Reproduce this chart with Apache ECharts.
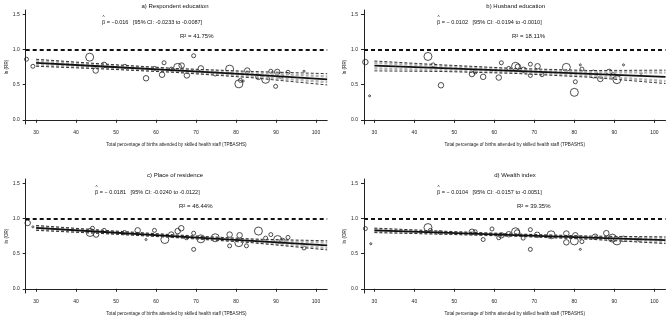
<!DOCTYPE html>
<html>
<head>
<meta charset="utf-8">
<script src="https://cdn.jsdelivr.net/npm/echarts@6/dist/echarts.min.js"></script>
<style>
  html, body { margin: 0; padding: 0; background: #fff; }
  #main { width: 668px; height: 319px; }
</style>
</head>
<body>
<div id="main"></div>
<script>
// tick labels
var xTicks = [30, 40, 50, 60, 70, 80, 90, 100];
var yTicks = [0, 0.5, 1, 1.5];

// x positions where the fitted line and CI bands were read
var fitX = [30, 47, 65, 84, 102.8];

// a) Respondent education
var respX = [27.6, 29.2, 43.4, 44.9, 47.0, 52.2, 57.5, 59.6, 61.5, 62.0, 63.8, 65.4, 66.4, 67.7, 69.4, 71.2, 74.8, 78.4, 80.7, 81.1, 81.8, 82.8, 85.6, 87.4, 88.7, 89.9, 90.3, 91.1, 93.0, 97.0];
var respY = [0.86, 0.76, 0.89, 0.70, 0.78, 0.76, 0.59, 0.73, 0.64, 0.81, 0.72, 0.745, 0.77, 0.63, 0.91, 0.73, 0.65, 0.72, 0.51, 0.56, 0.55, 0.70, 0.61, 0.575, 0.69, 0.475, 0.68, 0.63, 0.675, 0.69];
var respW = [2, 2, 4, 3, 3, 2, 3, 2, 3, 2, 2, 4, 3, 3, 2, 3, 2, 4, 4, 2, 1, 3, 3, 4, 2, 2, 3, 3, 2, 1];
var respFit = [0.81, 0.757, 0.701, 0.642, 0.575];
var respHi = [0.86, 0.792, 0.729, 0.687, 0.655];
var respLo = [0.76, 0.722, 0.673, 0.597, 0.495];
var respGHi = [0.84, 0.778, 0.718, 0.669, 0.615];
var respGLo = [0.78, 0.736, 0.684, 0.615, 0.535];

// b) Husband education
var husbX = [27.75, 28.8, 43.4, 44.7, 46.65, 54.4, 55.2, 57.2, 59.2, 61.1, 61.75, 63.6, 65.3, 65.9, 67.3, 69.0, 69.0, 70.8, 71.9, 78.0, 80.25, 80.0, 81.5, 81.9, 84.8, 86.5, 88.7, 89.7, 90.65, 92.3, 96.7];
var husbY = [0.82, 0.34, 0.90, 0.78, 0.49, 0.65, 0.68, 0.61, 0.69, 0.60, 0.81, 0.73, 0.76, 0.755, 0.71, 0.79, 0.63, 0.76, 0.64, 0.745, 0.54, 0.39, 0.78, 0.72, 0.65, 0.58, 0.68, 0.63, 0.57, 0.78, 0.66];
var husbW = [3, 1, 4, 2, 3, 3, 2, 3, 1, 3, 2, 2, 4, 3, 3, 2, 2, 3, 2, 4, 2, 4, 1, 2, 4, 3, 3, 3, 4, 1, 1];
var husbFit = [0.77, 0.733, 0.694, 0.652, 0.61];
var husbHi = [0.835, 0.78, 0.73, 0.70, 0.705];
var husbLo = [0.695, 0.686, 0.659, 0.604, 0.515];
var husbGHi = [0.81, 0.762, 0.714, 0.68, 0.67];
var husbGLo = [0.73, 0.704, 0.674, 0.624, 0.55];

// c) Place of residence
var placeX = [27.9, 29.2, 43.5, 44.1, 45.0, 47.0, 52.1, 55.4, 57.5, 59.6, 62.2, 63.8, 65.4, 66.3, 67.6, 69.4, 69.4, 71.2, 74.8, 78.4, 78.4, 80.7, 80.9, 82.6, 85.6, 87.4, 88.7, 90.4, 91.6, 93.0, 97.0];
var placeY = [0.935, 0.88, 0.80, 0.86, 0.77, 0.83, 0.80, 0.83, 0.70, 0.83, 0.70, 0.77, 0.82, 0.86, 0.725, 0.79, 0.56, 0.71, 0.725, 0.77, 0.61, 0.655, 0.76, 0.61, 0.82, 0.72, 0.77, 0.70, 0.68, 0.73, 0.58];
var placeW = [3, 1, 4, 2, 3, 2, 2, 3, 1, 2, 4, 3, 3, 3, 2, 2, 2, 4, 4, 3, 2, 4, 3, 2, 4, 2, 2, 4, 3, 2, 2];
var placeFit = [0.865, 0.807, 0.746, 0.681, 0.617];
var placeHi = [0.90, 0.83, 0.764, 0.707, 0.682];
var placeLo = [0.83, 0.784, 0.728, 0.655, 0.552];
var placeGHi = [0.886, 0.821, 0.757, 0.697, 0.656];
var placeGLo = [0.844, 0.793, 0.735, 0.665, 0.578];

// d) Wealth index
var wealthX = [27.75, 29.1, 43.4, 44.0, 46.5, 54.4, 55.2, 57.2, 59.4, 61.1, 61.75, 63.6, 65.3, 65.7, 67.2, 69.0, 69.0, 70.7, 74.2, 78.0, 78.0, 80.0, 80.25, 81.5, 81.9, 85.2, 88.0, 89.5, 90.65, 92.3, 96.3];
var wealthY = [0.855, 0.64, 0.87, 0.83, 0.80, 0.81, 0.81, 0.70, 0.85, 0.725, 0.76, 0.775, 0.81, 0.80, 0.72, 0.84, 0.56, 0.767, 0.767, 0.785, 0.66, 0.68, 0.76, 0.56, 0.67, 0.74, 0.79, 0.72, 0.68, 0.71, 0.70];
var wealthW = [2, 1, 4, 2, 2, 3, 2, 2, 2, 2, 3, 3, 4, 3, 2, 2, 2, 3, 4, 3, 3, 4, 3, 1, 2, 3, 3, 4, 4, 3, 2];
var wealthFit = [0.83, 0.797, 0.763, 0.726, 0.69];
var wealthHi = [0.862, 0.818, 0.778, 0.748, 0.738];
var wealthLo = [0.798, 0.776, 0.748, 0.704, 0.642];
var wealthGHi = [0.849, 0.81, 0.772, 0.739, 0.72];
var wealthGLo = [0.811, 0.784, 0.754, 0.713, 0.66];

var panels = [
  { title: 'a) Respondent education', beta: '\u03B2 = \u22120.016   [95% CI: -0.0233 to -0.0087]', r2: 'R\u00B2 = 41.75%', yName: 'ln (RR)',
    x: respX, y: respY, w: respW, fit: respFit, hi: respHi, lo: respLo, ghi: respGHi, glo: respGLo },
  { title: 'b) Husband education', beta: '\u03B2 = \u2212 0.0102   [95% CI: -0.0194 to -0.0010]', r2: 'R\u00B2 = 18.11%', yName: 'ln (RR)',
    x: husbX, y: husbY, w: husbW, fit: husbFit, hi: husbHi, lo: husbLo, ghi: husbGHi, glo: husbGLo },
  { title: 'c) Place of residence', beta: '\u03B2 = \u2212 0.0181   [95% CI: -0.0240 to -0.0122]', r2: 'R\u00B2 = 46.44%', yName: 'ln (OR)',
    x: placeX, y: placeY, w: placeW, fit: placeFit, hi: placeHi, lo: placeLo, ghi: placeGHi, glo: placeGLo },
  { title: 'd) Wealth index', beta: '\u03B2 = \u2212 0.0104   [95% CI: -0.0157 to -0.0051]', r2: 'R\u00B2 = 39.35%', yName: 'ln (OR)',
    x: wealthX, y: wealthY, w: wealthW, fit: wealthFit, hi: wealthHi, lo: wealthLo, ghi: wealthGHi, glo: wealthGLo }
];

// layout of the four plot areas and their texts
var gridPos = [
  { left: 25.7, top: 10 }, { left: 364, top: 10 },
  { left: 25.7, top: 179 }, { left: 364, top: 179 }
];
var textPos = [
  { tx: 175, ty: 6, bx: 102, by: 22.3, rx: 180, ry: 36.7 },
  { tx: 515.7, ty: 6, bx: 437, by: 22.3, rx: 512, ry: 36.7 },
  { tx: 175, ty: 175.7, bx: 95, by: 192.3, rx: 179, ry: 206.7 },
  { tx: 515, ty: 175.7, bx: 437, by: 192.3, rx: 517, ry: 206.7 }
];

var FONT = '"Liberation Sans", Arial, sans-serif';
var sizeOf = [2, 4, 5.5, 8];

function zip(xs, ys) {
  return xs.map(function (v, i) { return [v, ys[i]]; });
}

var grid = [], xAxis = [], yAxis = [], series = [], graphic = [];

panels.forEach(function (p, i) {
  grid.push({ left: gridPos[i].left, top: gridPos[i].top, width: 301.5, height: 114 });

  xAxis.push({
    gridIndex: i, type: 'value', min: 27.4, max: 102.8,
    name: 'Total percentage of births attended by skilled health staff (TPBASHS)',
    nameLocation: 'middle', nameGap: 18,
    nameTextStyle: { fontFamily: FONT, fontSize: 4.6, color: '#222' },
    axisLine: { show: true, lineStyle: { color: '#222', width: 1 } },
    axisTick: { show: true, length: 3, customValues: xTicks, lineStyle: { color: '#222' } },
    axisLabel: { customValues: xTicks, margin: 6, fontFamily: FONT, fontSize: 5, color: '#222' },
    splitLine: { show: false }
  });

  yAxis.push({
    gridIndex: i, type: 'value', min: -0.06, max: 1.56,
    name: p.yName, nameLocation: 'middle', nameRotate: 90, nameGap: 15,
    nameTextStyle: { fontFamily: FONT, fontSize: 4.6, color: '#222' },
    axisLine: { show: true, lineStyle: { color: '#222', width: 1 } },
    axisTick: { show: true, length: 3, customValues: yTicks, lineStyle: { color: '#222' } },
    axisLabel: { customValues: yTicks, margin: 6, fontFamily: FONT, fontSize: 5, color: '#222',
      formatter: function (v) { return v.toFixed(1); } },
    splitLine: { show: false }
  });

  function band(data, color, width, dash) {
    return {
      type: 'line', xAxisIndex: i, yAxisIndex: i, data: zip(fitX, data),
      symbol: 'none', silent: true, animation: false,
      lineStyle: { color: color, width: width, type: dash }
    };
  }

  series.push(band(p.ghi, '#b4b4b4', 2.4, [3, 2]));
  series.push(band(p.glo, '#b4b4b4', 2.4, [3, 2]));
  series.push(band(p.hi, '#222', 0.9, [3, 2]));
  series.push(band(p.lo, '#222', 0.9, [3, 2]));

  var fit = band(p.fit, '#111', 1.8, 'solid');
  fit.markLine = {
    silent: true, symbol: 'none', label: { show: false }, animation: false,
    lineStyle: { color: '#111', width: 1.8, type: [4, 3] },
    data: [{ yAxis: 1 }]
  };
  series.push(fit);

  series.push({
    type: 'scatter', xAxisIndex: i, yAxisIndex: i, animation: false,
    data: p.x.map(function (v, k) { return [v, p.y[k], p.w[k]]; }),
    symbol: 'circle',
    symbolSize: function (d) { return sizeOf[d[2] - 1]; },
    itemStyle: { color: 'rgba(0,0,0,0)', borderColor: '#222', borderWidth: 1 }
  });

  var t = textPos[i];
  graphic.push({ type: 'text', x: t.tx, y: t.ty,
    style: { text: p.title, fontFamily: FONT, fontSize: 6, fill: '#111', align: 'center', verticalAlign: 'middle' } });
  graphic.push({ type: 'text', x: t.bx, y: t.by,
    style: { text: p.beta, fontFamily: FONT, fontSize: 5.5, fill: '#111', align: 'left', verticalAlign: 'middle' } });
  // hat over beta
  graphic.push({ type: 'text', x: t.bx + 1.6, y: t.by - 4.5,
    style: { text: '^', fontFamily: FONT, fontSize: 4.5, fill: '#111', align: 'center', verticalAlign: 'middle' } });
  graphic.push({ type: 'text', x: t.rx, y: t.ry,
    style: { text: p.r2, fontFamily: FONT, fontSize: 6, fill: '#111', align: 'left', verticalAlign: 'middle' } });
});

var myChart = echarts.init(document.getElementById('main'));
var option = {
  backgroundColor: '#fff',
  animation: false,
  grid: grid,
  xAxis: xAxis,
  yAxis: yAxis,
  series: series,
  graphic: graphic
};

if (option && typeof option === 'object') {
  myChart.setOption(option);
}
</script>
</body>
</html>
